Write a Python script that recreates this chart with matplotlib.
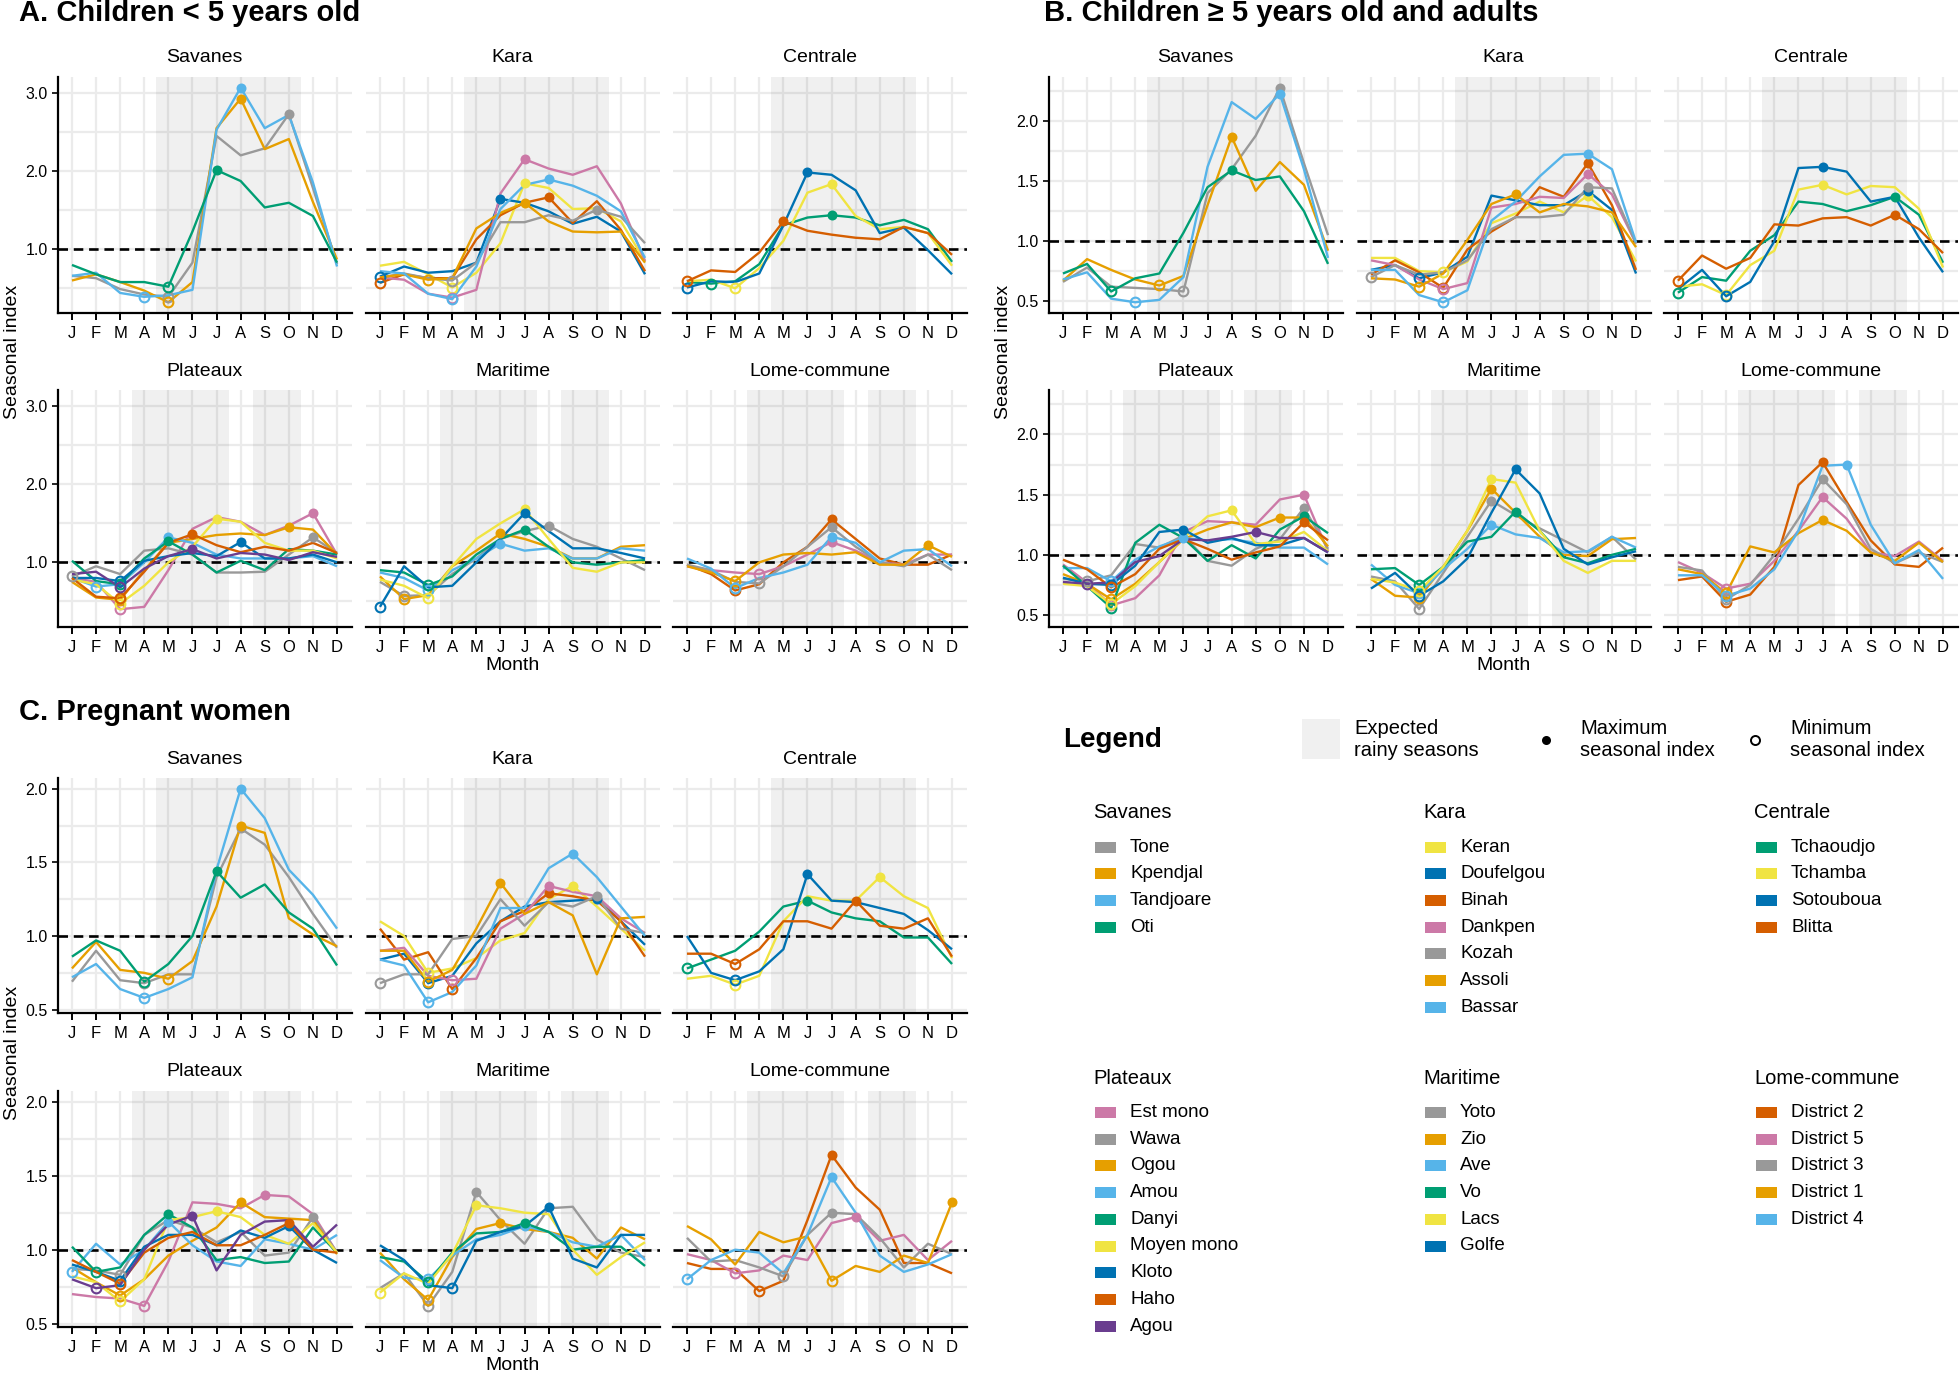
import numpy as np
import matplotlib
matplotlib.use("Agg")
import matplotlib.pyplot as plt
from matplotlib.patches import Rectangle
from matplotlib.lines import Line2D

plt.rcParams['font.family'] = ['Liberation Sans', 'DejaVu Sans']

MONTHS = ["J", "F", "M", "A", "M", "J", "J", "A", "S", "O", "N", "D"]
REGIONS = ["Savanes", "Kara", "Centrale", "Plateaux", "Maritime", "Lome-commune"]

GRAY, ORANGE, SKY, GREEN = "#999999", "#E69F00", "#56B4E9", "#009E73"
YELLOW, BLUE, VERM, PINK, PURPLE = "#F0E442", "#0072B2", "#D55E00", "#CC79A7", "#6A3D8F"

DISTRICTS = {
    "Savanes": ["Tone", "Kpendjal", "Tandjoare", "Oti"],
    "Kara": ["Keran", "Doufelgou", "Binah", "Dankpen", "Kozah", "Assoli", "Bassar"],
    "Centrale": ["Tchaoudjo", "Tchamba", "Sotouboua", "Blitta"],
    "Plateaux": ["Est mono", "Wawa", "Ogou", "Amou", "Danyi", "Moyen mono", "Kloto", "Haho", "Agou"],
    "Maritime": ["Yoto", "Zio", "Ave", "Vo", "Lacs", "Golfe"],
    "Lome-commune": ["District 2", "District 5", "District 3", "District 1", "District 4"],
}
COLORS = {
    "Tone": GRAY, "Kpendjal": ORANGE, "Tandjoare": SKY, "Oti": GREEN,
    "Keran": YELLOW, "Doufelgou": BLUE, "Binah": VERM, "Dankpen": PINK, "Kozah": GRAY, "Assoli": ORANGE, "Bassar": SKY,
    "Tchaoudjo": GREEN, "Tchamba": YELLOW, "Sotouboua": BLUE, "Blitta": VERM,
    "Est mono": PINK, "Wawa": GRAY, "Ogou": ORANGE, "Amou": SKY, "Danyi": GREEN, "Moyen mono": YELLOW,
    "Kloto": BLUE, "Haho": VERM, "Agou": PURPLE,
    "Yoto": GRAY, "Zio": ORANGE, "Ave": SKY, "Vo": GREEN, "Lacs": YELLOW, "Golfe": BLUE,
    "District 2": VERM, "District 5": PINK, "District 3": GRAY, "District 1": ORANGE, "District 4": SKY,
}

# Expected rainy seasons (month index spans)
RAINY = {
    "Savanes": [(4.5, 10.5)], "Kara": [(4.5, 10.5)], "Centrale": [(4.5, 10.5)],
    "Plateaux": [(3.5, 7.5), (8.5, 10.5)], "Maritime": [(3.5, 7.5), (8.5, 10.5)],
    "Lome-commune": [(3.5, 7.5), (8.5, 10.5)],
}

# ---------------- Panel A: children < 5 years old ----------------
A_SAVANES = {
    "Tone":      [0.65, 0.62, 0.48, 0.41, 0.38, 0.82, 2.45, 2.20, 2.29, 2.73, 1.78, 0.80],
    "Kpendjal":  [0.59, 0.67, 0.57, 0.46, 0.31, 0.57, 2.55, 2.93, 2.28, 2.41, 1.60, 0.86],
    "Tandjoare": [0.65, 0.69, 0.43, 0.38, 0.40, 0.47, 2.53, 3.07, 2.55, 2.72, 1.85, 0.77],
    "Oti":       [0.79, 0.67, 0.57, 0.57, 0.51, 1.22, 2.01, 1.87, 1.53, 1.59, 1.42, 0.82],
}
A_KARA = {
    "Keran":     [0.78, 0.83, 0.67, 0.50, 0.69, 1.07, 1.84, 1.78, 1.51, 1.52, 1.35, 0.84],
    "Doufelgou": [0.64, 0.77, 0.69, 0.71, 0.82, 1.64, 1.59, 1.48, 1.32, 1.41, 1.22, 0.67],
    "Binah":     [0.56, 0.67, 0.62, 0.62, 1.12, 1.43, 1.59, 1.66, 1.33, 1.61, 1.24, 0.71],
    "Dankpen":   [0.63, 0.60, 0.42, 0.37, 0.47, 1.71, 2.15, 2.03, 1.95, 2.06, 1.58, 0.84],
    "Kozah":     [0.63, 0.68, 0.62, 0.59, 0.82, 1.34, 1.34, 1.43, 1.36, 1.50, 1.41, 1.07],
    "Assoli":    [0.63, 0.67, 0.60, 0.62, 1.26, 1.46, 1.59, 1.35, 1.22, 1.21, 1.22, 0.82],
    "Bassar":    [0.71, 0.68, 0.42, 0.35, 0.77, 1.51, 1.82, 1.89, 1.81, 1.68, 1.48, 0.88],
}
A_CENTRALE = {
    "Tchaoudjo": [0.57, 0.55, 0.58, 0.80, 1.30, 1.40, 1.43, 1.40, 1.30, 1.37, 1.25, 0.83],
    "Tchamba":   [0.58, 0.60, 0.49, 0.75, 1.10, 1.72, 1.83, 1.42, 1.25, 1.28, 1.20, 0.78],
    "Sotouboua": [0.50, 0.58, 0.57, 0.68, 1.30, 1.98, 1.95, 1.75, 1.20, 1.27, 0.98, 0.67],
    "Blitta":    [0.58, 0.72, 0.70, 0.95, 1.35, 1.23, 1.18, 1.14, 1.12, 1.28, 1.20, 0.92],
}
A_PLATEAUX = {
    "Est mono":   [0.80, 0.75, 0.40, 0.43, 0.90, 1.43, 1.58, 1.52, 1.35, 1.47, 1.63, 1.10],
    "Wawa":       [0.82, 0.95, 0.85, 1.15, 1.18, 1.10, 0.87, 0.87, 0.88, 1.10, 1.32, 1.12],
    "Ogou":       [0.75, 0.55, 0.52, 0.90, 1.25, 1.30, 1.35, 1.37, 1.35, 1.45, 1.42, 1.10],
    "Amou":       [0.80, 0.69, 0.72, 1.00, 1.32, 1.25, 1.10, 1.05, 1.05, 1.05, 1.08, 0.95],
    "Danyi":      [1.02, 0.76, 0.72, 1.05, 1.27, 1.10, 0.87, 1.02, 0.90, 1.17, 1.15, 1.10],
    "Moyen mono": [0.78, 0.72, 0.47, 0.70, 1.00, 1.20, 1.56, 1.52, 1.25, 1.15, 1.15, 1.05],
    "Kloto":      [0.80, 0.80, 0.76, 1.02, 1.08, 1.12, 1.08, 1.26, 1.05, 1.05, 1.10, 1.00],
    "Haho":       [0.80, 0.56, 0.54, 0.88, 1.25, 1.36, 1.22, 1.13, 1.20, 1.15, 1.25, 1.12],
    "Agou":       [0.85, 0.88, 0.68, 0.92, 1.08, 1.17, 1.05, 1.12, 1.10, 1.03, 1.13, 1.07],
}
A_MARITIME = {
    "Yoto":  [0.75, 0.57, 0.58, 0.85, 1.05, 1.30, 1.40, 1.47, 1.30, 1.20, 1.05, 0.90],
    "Zio":   [0.82, 0.53, 0.58, 0.95, 1.15, 1.37, 1.30, 1.20, 1.05, 1.05, 1.20, 1.22],
    "Ave":   [0.87, 0.80, 0.64, 0.90, 1.05, 1.24, 1.15, 1.18, 1.05, 1.05, 1.18, 1.15],
    "Vo":    [0.90, 0.87, 0.71, 0.82, 1.10, 1.30, 1.42, 1.20, 1.00, 0.97, 1.00, 1.03],
    "Lacs":  [0.78, 0.70, 0.54, 0.95, 1.30, 1.50, 1.68, 1.30, 0.93, 0.88, 1.00, 1.00],
    "Golfe": [0.43, 0.95, 0.68, 0.70, 1.00, 1.30, 1.63, 1.40, 1.18, 1.18, 1.12, 1.05],
}
A_LOME = {
    "District 2": [0.97, 0.85, 0.64, 0.72, 1.00, 1.20, 1.55, 1.30, 1.05, 0.97, 0.97, 1.10],
    "District 5": [0.95, 0.90, 0.87, 0.85, 0.95, 1.10, 1.26, 1.15, 1.00, 0.97, 1.10, 1.10],
    "District 3": [0.97, 0.90, 0.75, 0.73, 0.95, 1.20, 1.45, 1.20, 1.00, 0.95, 1.10, 0.90],
    "District 1": [0.95, 0.87, 0.76, 1.00, 1.10, 1.12, 1.10, 1.13, 0.97, 0.97, 1.22, 1.07],
    "District 4": [1.05, 0.92, 0.67, 0.80, 0.87, 0.97, 1.33, 1.25, 1.00, 1.15, 1.17, 0.95],
}

# ---------------- Panel B: children >= 5 years old and adults ----------------
B_SAVANES = {
    "Tone":      [0.66, 0.78, 0.62, 0.61, 0.60, 0.58, 1.40, 1.60, 1.88, 2.28, 1.65, 1.05],
    "Kpendjal":  [0.67, 0.85, 0.76, 0.68, 0.63, 0.71, 1.30, 1.87, 1.42, 1.66, 1.47, 0.92],
    "Tandjoare": [0.68, 0.74, 0.52, 0.49, 0.51, 0.70, 1.62, 2.16, 2.02, 2.23, 1.60, 0.86],
    "Oti":       [0.73, 0.81, 0.58, 0.69, 0.73, 1.07, 1.45, 1.59, 1.51, 1.54, 1.25, 0.81],
}
B_KARA = {
    "Keran":     [0.86, 0.86, 0.75, 0.74, 0.83, 1.15, 1.23, 1.33, 1.24, 1.38, 1.20, 0.83],
    "Doufelgou": [0.76, 0.80, 0.69, 0.74, 0.87, 1.38, 1.34, 1.30, 1.30, 1.42, 1.26, 0.73],
    "Binah":     [0.72, 0.84, 0.74, 0.61, 0.93, 1.08, 1.20, 1.45, 1.37, 1.65, 1.30, 0.76],
    "Dankpen":   [0.84, 0.80, 0.68, 0.60, 0.65, 1.28, 1.31, 1.37, 1.36, 1.56, 1.39, 0.98],
    "Kozah":     [0.70, 0.80, 0.72, 0.74, 0.84, 1.10, 1.20, 1.20, 1.22, 1.45, 1.44, 0.98],
    "Assoli":    [0.69, 0.68, 0.62, 0.73, 1.01, 1.31, 1.39, 1.24, 1.31, 1.29, 1.24, 0.95],
    "Bassar":    [0.76, 0.76, 0.55, 0.49, 0.59, 1.17, 1.33, 1.54, 1.72, 1.73, 1.60, 0.99],
}
B_CENTRALE = {
    "Tchaoudjo": [0.57, 0.70, 0.67, 0.92, 1.05, 1.33, 1.31, 1.25, 1.30, 1.37, 1.22, 0.82],
    "Tchamba":   [0.62, 0.64, 0.55, 0.80, 0.92, 1.43, 1.47, 1.39, 1.46, 1.45, 1.27, 0.78],
    "Sotouboua": [0.60, 0.76, 0.54, 0.66, 1.00, 1.61, 1.62, 1.58, 1.33, 1.37, 1.03, 0.74],
    "Blitta":    [0.67, 0.88, 0.77, 0.86, 1.14, 1.13, 1.19, 1.20, 1.13, 1.22, 1.10, 0.90],
}
B_PLATEAUX = {
    "Est mono":   [0.92, 0.77, 0.58, 0.64, 0.83, 1.19, 1.28, 1.27, 1.25, 1.46, 1.50, 1.03],
    "Wawa":       [0.80, 0.78, 0.83, 1.09, 1.06, 1.16, 0.95, 0.91, 1.05, 1.13, 1.39, 1.05],
    "Ogou":       [0.84, 0.76, 0.63, 0.76, 0.94, 1.13, 1.21, 1.27, 1.23, 1.31, 1.31, 1.07],
    "Amou":       [0.89, 0.89, 0.78, 0.96, 1.07, 1.14, 1.12, 1.13, 1.10, 1.06, 1.06, 0.92],
    "Danyi":      [0.91, 0.74, 0.56, 1.10, 1.25, 1.14, 0.95, 1.08, 0.97, 1.21, 1.32, 1.18],
    "Moyen mono": [0.76, 0.74, 0.59, 0.74, 0.94, 1.14, 1.32, 1.37, 1.09, 1.11, 1.19, 1.03],
    "Kloto":      [0.81, 0.76, 0.75, 0.91, 1.19, 1.21, 1.10, 1.14, 1.08, 1.08, 1.14, 1.02],
    "Haho":       [0.96, 0.88, 0.73, 0.84, 1.05, 1.13, 1.05, 0.96, 1.02, 1.07, 1.27, 1.12],
    "Agou":       [0.775, 0.76, 0.77, 0.94, 0.99, 1.13, 1.12, 1.15, 1.19, 1.14, 1.14, 1.02],
}
B_MARITIME = {
    "Yoto":  [0.82, 0.78, 0.55, 0.85, 1.15, 1.45, 1.33, 1.22, 1.12, 1.02, 1.15, 0.96],
    "Zio":   [0.80, 0.66, 0.645, 0.90, 1.20, 1.55, 1.35, 1.15, 1.00, 0.99, 1.13, 1.14],
    "Ave":   [0.92, 0.75, 0.68, 0.88, 1.05, 1.25, 1.17, 1.14, 1.02, 1.03, 1.15, 1.06],
    "Vo":    [0.88, 0.89, 0.75, 0.90, 1.11, 1.15, 1.36, 1.20, 0.98, 0.93, 1.00, 1.05],
    "Lacs":  [0.80, 0.77, 0.70, 0.90, 1.20, 1.63, 1.60, 1.20, 0.95, 0.85, 0.95, 0.95],
    "Golfe": [0.72, 0.85, 0.66, 0.78, 0.97, 1.35, 1.71, 1.51, 1.05, 0.92, 0.98, 1.03],
}
B_LOME = {
    "District 2": [0.79, 0.82, 0.61, 0.67, 0.90, 1.58, 1.77, 1.44, 1.12, 0.92, 0.90, 1.06],
    "District 5": [0.94, 0.85, 0.72, 0.76, 0.95, 1.20, 1.48, 1.30, 1.02, 0.99, 1.11, 0.95],
    "District 3": [0.90, 0.87, 0.63, 0.75, 1.00, 1.30, 1.63, 1.42, 1.05, 0.93, 1.02, 0.94],
    "District 1": [0.88, 0.84, 0.68, 1.07, 1.02, 1.18, 1.29, 1.20, 1.02, 0.95, 1.10, 0.94],
    "District 4": [0.83, 0.83, 0.66, 0.72, 0.88, 1.20, 1.74, 1.75, 1.25, 0.93, 1.04, 0.80],
}

# ---------------- Panel C: pregnant women ----------------
C_SAVANES = {
    "Tone":      [0.69, 0.90, 0.70, 0.68, 0.74, 0.74, 1.40, 1.73, 1.62, 1.40, 1.15, 0.92],
    "Kpendjal":  [0.78, 0.96, 0.77, 0.75, 0.71, 0.83, 1.20, 1.75, 1.70, 1.12, 1.01, 0.93],
    "Tandjoare": [0.72, 0.81, 0.64, 0.58, 0.64, 0.72, 1.45, 2.00, 1.80, 1.45, 1.28, 1.05],
    "Oti":       [0.86, 0.97, 0.90, 0.69, 0.81, 1.00, 1.44, 1.26, 1.35, 1.16, 1.05, 0.80],
}
C_KARA = {
    "Keran":     [1.10, 1.00, 0.75, 0.78, 0.85, 0.97, 1.02, 1.25, 1.34, 1.20, 1.05, 0.90],
    "Doufelgou": [0.84, 0.88, 0.68, 0.73, 0.95, 1.10, 1.20, 1.23, 1.24, 1.25, 1.10, 0.94],
    "Binah":     [1.05, 0.84, 0.89, 0.64, 0.85, 1.10, 1.17, 1.29, 1.27, 1.24, 1.10, 0.86],
    "Dankpen":   [0.90, 0.92, 0.73, 0.70, 0.71, 1.05, 1.15, 1.34, 1.30, 1.27, 1.12, 1.02],
    "Kozah":     [0.68, 0.74, 0.74, 0.98, 1.00, 1.25, 1.07, 1.23, 1.20, 1.27, 1.05, 1.02],
    "Assoli":    [0.90, 0.90, 0.69, 0.77, 1.05, 1.36, 1.15, 1.23, 1.14, 0.74, 1.12, 1.13],
    "Bassar":    [0.84, 0.80, 0.55, 0.62, 0.80, 1.19, 1.19, 1.46, 1.56, 1.40, 1.20, 1.00],
}
C_CENTRALE = {
    "Tchaoudjo": [0.78, 0.84, 0.90, 1.03, 1.20, 1.24, 1.16, 1.12, 1.10, 0.99, 0.99, 0.81],
    "Tchamba":   [0.71, 0.73, 0.67, 0.73, 1.10, 1.27, 1.24, 1.24, 1.40, 1.27, 1.19, 0.85],
    "Sotouboua": [1.00, 0.75, 0.70, 0.76, 0.91, 1.42, 1.24, 1.23, 1.19, 1.15, 1.04, 0.91],
    "Blitta":    [0.88, 0.88, 0.81, 0.91, 1.10, 1.10, 1.05, 1.24, 1.07, 1.05, 1.12, 0.86],
}
C_PLATEAUX = {
    "Est mono":   [0.70, 0.68, 0.67, 0.62, 0.92, 1.32, 1.31, 1.28, 1.37, 1.36, 1.24, 0.98],
    "Wawa":       [0.87, 0.86, 0.83, 1.10, 1.20, 1.15, 1.05, 1.12, 0.96, 0.98, 1.22, 0.98],
    "Ogou":       [0.88, 0.78, 0.69, 0.80, 0.96, 1.06, 1.15, 1.32, 1.22, 1.21, 1.20, 0.97],
    "Amou":       [0.85, 1.04, 0.90, 1.00, 1.19, 1.03, 0.92, 0.89, 1.07, 1.04, 1.00, 1.10],
    "Danyi":      [1.02, 0.85, 0.88, 1.10, 1.24, 1.15, 0.93, 0.95, 0.91, 0.92, 1.15, 0.98],
    "Moyen mono": [0.82, 0.78, 0.65, 0.80, 1.20, 1.22, 1.26, 1.22, 1.10, 1.04, 1.18, 0.98],
    "Kloto":      [0.90, 0.85, 0.79, 1.02, 1.10, 1.10, 1.03, 1.13, 1.08, 1.16, 1.00, 0.91],
    "Haho":       [0.93, 0.85, 0.77, 0.98, 1.08, 1.12, 1.03, 1.03, 1.10, 1.18, 1.00, 0.98],
    "Agou":       [0.80, 0.74, 0.76, 1.00, 1.17, 1.23, 0.86, 1.10, 1.19, 1.20, 1.02, 1.17],
}
C_MARITIME = {
    "Yoto":  [0.74, 0.84, 0.62, 0.85, 1.39, 1.20, 1.04, 1.28, 1.29, 1.07, 0.98, 0.95],
    "Zio":   [0.98, 0.80, 0.66, 0.95, 1.14, 1.18, 1.14, 1.12, 1.08, 0.94, 1.15, 1.07],
    "Ave":   [0.93, 0.81, 0.80, 0.96, 1.07, 1.10, 1.16, 1.12, 1.05, 1.02, 1.10, 0.93],
    "Vo":    [0.95, 0.92, 0.78, 0.98, 1.11, 1.12, 1.18, 1.12, 1.00, 1.02, 1.02, 0.89],
    "Lacs":  [0.71, 0.84, 0.77, 0.97, 1.30, 1.28, 1.25, 1.24, 1.00, 0.83, 0.95, 1.05],
    "Golfe": [1.03, 0.93, 0.76, 0.74, 1.06, 1.12, 1.16, 1.29, 0.94, 0.88, 1.10, 1.10],
}
C_LOME = {
    "District 2": [0.91, 0.87, 0.87, 0.72, 0.79, 1.20, 1.64, 1.42, 1.27, 0.91, 0.91, 0.84],
    "District 5": [0.97, 0.93, 0.84, 0.86, 0.96, 0.93, 1.18, 1.22, 1.06, 1.10, 0.93, 1.06],
    "District 3": [1.08, 0.92, 0.93, 0.88, 0.82, 1.10, 1.25, 1.24, 1.08, 0.88, 1.04, 0.97],
    "District 1": [1.16, 1.07, 0.90, 1.12, 1.05, 1.09, 0.79, 0.89, 0.85, 0.96, 0.91, 1.32],
    "District 4": [0.80, 0.93, 1.00, 0.98, 0.84, 1.10, 1.49, 1.25, 0.96, 0.85, 0.90, 0.97],
}

PANEL_A = [A_SAVANES, A_KARA, A_CENTRALE, A_PLATEAUX, A_MARITIME, A_LOME]
PANEL_B = [B_SAVANES, B_KARA, B_CENTRALE, B_PLATEAUX, B_MARITIME, B_LOME]
PANEL_C = [C_SAVANES, C_KARA, C_CENTRALE, C_PLATEAUX, C_MARITIME, C_LOME]

# ---------------- layout (pixels) ----------------
W, H = 1960, 1375
fig = plt.figure(figsize=(W / 100, H / 100), dpi=100)
fig.patch.set_facecolor("white")


def fx(x):
    return x / W


def fy(y):
    return 1 - y / H


COLS_LEFT = [(57.5, 351.5), (365.5, 659.5), (672.5, 966.5)]
COLS_RIGHT = [(1048.5, 1342.5), (1356.5, 1650.5), (1663.5, 1957.5)]

PANELS = [
    dict(title="A. Children < 5 years old", tx=19, ty=13, data=PANEL_A, cols=COLS_LEFT,
         rows=[(77, 313), (390, 627)], major=[1.0, 2.0, 3.0], minor=[0.5, 1.5, 2.5]),
    dict(title="B. Children \u2265 5 years old and adults", tx=1044, ty=13, data=PANEL_B, cols=COLS_RIGHT,
         rows=[(77, 313), (390, 627)], major=[0.5, 1.0, 1.5, 2.0], minor=[0.75, 1.25, 1.75, 2.25]),
    dict(title="C. Pregnant women", tx=19, ty=712, data=PANEL_C, cols=COLS_LEFT,
         rows=[(778, 1013), (1091, 1327)], major=[0.5, 1.0, 1.5, 2.0], minor=[0.75, 1.25, 1.75, 2.25]),
]

GRID_C = "#EBEBEB"
x = np.arange(1, 13)

for P in PANELS:
    allv = np.concatenate([np.array(v) for d in P["data"] for v in d.values()])
    lo, hi = allv.min(), allv.max()
    pad = 0.05 * (hi - lo)
    ylim = (lo - pad, hi + pad)
    fig.text(fx(P["tx"]), fy(P["ty"]), P["title"], fontsize=21, fontweight="bold",
             ha="left", va="center")
    for i, region in enumerate(REGIONS):
        r, c = divmod(i, 3)
        x0, x1 = P["cols"][c]
        y0, y1 = P["rows"][r]
        ax = fig.add_axes([fx(x0), fy(y1), (x1 - x0) / W, (y1 - y0) / H])
        ax.set_facecolor("white")
        ax.set_xlim(0.4, 12.6)
        ax.set_ylim(*ylim)
        for m in x:
            ax.axvline(m, color=GRID_C, lw=1.6, zorder=0)
        for yv in P["major"]:
            ax.axhline(yv, color=GRID_C, lw=1.6, zorder=0)
        for yv in P["minor"]:
            if ylim[0] < yv < ylim[1]:
                ax.axhline(yv, color=GRID_C, lw=1.6, zorder=0)
        for a, b in RAINY[region]:
            ax.axvspan(a, b, color="black", alpha=0.06, lw=0, zorder=1)
        ax.axhline(1.0, color="black", lw=1.9, ls=(0, (3.6, 2.2)), zorder=2)
        d = P["data"][i]
        for name in DISTRICTS[region]:
            ax.plot(x, d[name], color=COLORS[name], lw=1.7, zorder=3, solid_capstyle="butt")
        for name in DISTRICTS[region]:
            v = np.array(d[name])
            imax, imin = int(np.argmax(v)), int(np.argmin(v))
            ax.plot([x[imax]], [v[imax]], "o", color=COLORS[name], ms=7.2, mew=0, zorder=5)
            ax.plot([x[imin]], [v[imin]], "o", mfc="none", mec=COLORS[name], ms=7.0, mew=1.5, zorder=5)
        for s in ["top", "right"]:
            ax.spines[s].set_visible(False)
        ax.spines["bottom"].set_linewidth(1.6)
        ax.spines["bottom"].set_zorder(6)
        ax.set_xticks(x)
        ax.set_xticklabels(MONTHS)
        ax.tick_params(axis="x", length=5, width=1.4, labelsize=12, pad=4, colors="black")
        if c == 0:
            ax.spines["left"].set_linewidth(1.6)
            ax.set_yticks(P["major"])
            ax.set_yticklabels(["%.1f" % t for t in P["major"]])
            ax.tick_params(axis="y", length=4, width=1.2, labelsize=11.5, pad=3)
        else:
            ax.spines["left"].set_visible(False)
            ax.set_yticks([])
        ax.set_yticks([], minor=True)
        # strip title
        fig.text(fx((x0 + x1) / 2), fy(y0 - 19), region, fontsize=14, ha="center", va="center")
    # axis titles
    ybot = P["rows"][1][1]
    ytop = P["rows"][0][0]
    fig.text(fx(P["cols"][0][0] - 45), fy((ytop + ybot) / 2), "Seasonal index", rotation=90,
             fontsize=14, ha="center", va="center")
    mid = P["cols"][1]
    fig.text(fx((mid[0] + mid[1]) / 2), fy(ybot + 38), "Month", fontsize=14, ha="center", va="center")

# ---------------- legend ----------------
fig.text(fx(1063), fy(740), "Legend", fontsize=20, fontweight="bold", ha="left", va="center")
fig.add_artist(Rectangle((fx(1302), fy(759)), 38 / W, 40 / H, transform=fig.transFigure,
                         facecolor="#F0F0F0", edgecolor="none"))
fig.text(fx(1354), fy(740), "Expected\nrainy seasons", fontsize=14.5, ha="left", va="center",
         linespacing=1.2)
fig.add_artist(Line2D([fx(1546)], [fy(740)], marker="o", color="black", ms=6.5, mew=0,
                      transform=fig.transFigure))
fig.text(fx(1580), fy(740), "Maximum\nseasonal index", fontsize=14.5, ha="left", va="center",
         linespacing=1.2)
fig.add_artist(Line2D([fx(1755)], [fy(740)], marker="o", mfc="none", mec="black", ms=6.5, mew=1.4,
                      transform=fig.transFigure))
fig.text(fx(1790), fy(740), "Minimum\nseasonal index", fontsize=14.5, ha="left", va="center",
         linespacing=1.2)

LEG_X = [1093, 1423, 1754]
LEG_BLOCKS = [(813, 847), (1079, 1112.5)]
STEP = 26.7
for i, region in enumerate(REGIONS):
    r, c = divmod(i, 3)
    hx = LEG_X[c]
    hy, iy = LEG_BLOCKS[r]
    fig.text(fx(hx), fy(hy), region, fontsize=14.5, ha="left", va="center")
    for k, name in enumerate(DISTRICTS[region]):
        yy = iy + k * STEP
        fig.add_artist(Rectangle((fx(hx + 2), fy(yy + 5.5)), 21 / W, 11 / H, transform=fig.transFigure,
                                 facecolor=COLORS[name], edgecolor="none"))
        fig.text(fx(hx + 37), fy(yy), name, fontsize=13.5, ha="left", va="center")

fig.savefig("out.png", dpi=100, facecolor="white")
